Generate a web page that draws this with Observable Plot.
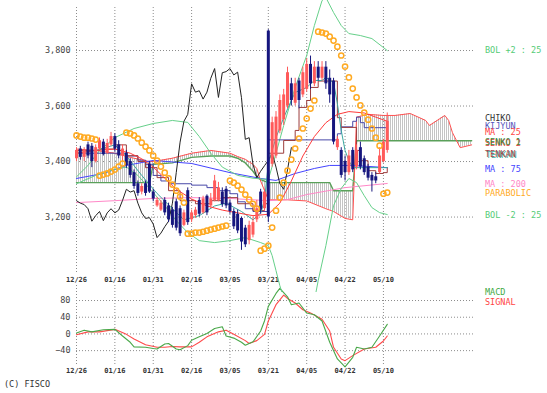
<!DOCTYPE html>
<html><head><meta charset="utf-8">
<script src="https://cdn.jsdelivr.net/npm/d3@7"></script>
<script src="https://cdn.jsdelivr.net/npm/@observablehq/plot@0.6"></script>
<style>
body{margin:0;background:#fff;}
#wrap{position:relative;width:547px;height:393px;overflow:hidden;background:#fff;font-family:"DejaVu Sans Mono",monospace;}
#main,#macd{position:absolute;left:0;}
#main{top:0;} #macd{top:276px;}
.lbl{position:absolute;left:485px;font-size:8.5px;line-height:1;white-space:pre;transform:translateY(-50%);}
</style></head><body>
<div id="wrap">
<svg width="0" height="0" style="position:absolute"><defs><pattern id="hatch" patternUnits="userSpaceOnUse" x="0" y="0" width="2" height="4"><rect x="0" y="0" width="1" height="4" fill="#c4c4c4"/></pattern></defs></svg>
<div id="macd"></div>
<div id="main"></div>
<div class="lbl" style="top:50px;color:#55cc77">BOL +2 : 25</div>
<div class="lbl" style="top:118px;color:#333">CHIKO</div>
<div class="lbl" style="top:126px;color:#5555bb">KIJYUN</div>
<div class="lbl" style="top:132px;color:#ff4444">MA : 25</div>
<div class="lbl" style="top:143px;color:#e04040">SENKO 2</div>
<div class="lbl" style="top:142px;color:#3d8a3d">SENKO 1</div>
<div class="lbl" style="top:155px;left:486px;color:#40b0a0">TENKAN</div>
<div class="lbl" style="top:154px;color:#a04848">TENKAN</div>
<div class="lbl" style="top:169px;color:#4444ff">MA : 75</div>
<div class="lbl" style="top:184px;color:#ff88c8">MA : 200</div>
<div class="lbl" style="top:193px;color:#ffaa22">PARABOLIC</div>
<div class="lbl" style="top:215px;color:#55cc77">BOL -2 : 25</div>
<div class="lbl" style="top:292px;color:#44aa44">MACD</div>
<div class="lbl" style="top:302px;color:#ff4444">SIGNAL</div>
<div class="lbl" style="top:384px;left:4px;color:#333">(C) FISCO</div>
</div>
<script>
// ---- categories / ticks ----
const dateIdx = [0,10,20,30,40,50,60,70,80];
const dateLabels = ["12/26","01/16","01/31","02/16","03/05","03/21","04/05","04/22","05/10"];
const priceTicks = [3200,3400,3600,3800];
const macdTicks = [-40,0,40,80];

// ---- candles ----
const open  = [3410,3445,3415,3460,3455,3400,3445,3470,3430,3460,3490,3460,3420,3430,3400,3360,3320,3290,3320,3390,3290,3240,3225,3260,3240,3225,3255,3230,3170,3295,3190,3205,3260,3215,3275,3240,3260,3260,3290,3300,3250,3220,3210,3195,3160,3115,3135,3190,3290,3230,3870,3390,3420,3510,3550,3600,3680,3610,3690,3640,3660,3750,3680,3740,3700,3740,3700,3690,3450,3440,3400,3360,3440,3380,3450,3410,3380,3350,3345,3360,3400,3440];
const high  = [3450,3455,3450,3470,3465,3460,3485,3480,3480,3505,3500,3475,3460,3440,3410,3370,3330,3320,3330,3400,3300,3270,3260,3270,3250,3235,3265,3240,3225,3305,3225,3235,3270,3275,3280,3285,3350,3325,3305,3310,3260,3230,3225,3200,3170,3185,3200,3260,3300,3300,3875,3560,3580,3640,3660,3740,3700,3700,3700,3740,3770,3780,3760,3760,3760,3760,3730,3700,3490,3450,3420,3440,3450,3460,3470,3420,3390,3360,3360,3450,3480,3575];
const low   = [3400,3405,3400,3410,3378,3395,3440,3420,3425,3455,3435,3410,3400,3375,3340,3300,3275,3280,3275,3285,3255,3235,3220,3205,3180,3160,3150,3130,3165,3170,3180,3195,3200,3210,3205,3230,3255,3255,3235,3230,3210,3155,3140,3080,3090,3100,3125,3180,3210,3220,3180,3380,3410,3500,3530,3590,3600,3600,3590,3630,3650,3660,3670,3690,3690,3660,3610,3460,3440,3340,3330,3350,3360,3370,3370,3350,3330,3290,3320,3355,3395,3430];
const close = [3440,3415,3440,3420,3400,3450,3475,3425,3465,3490,3445,3420,3445,3385,3350,3310,3285,3310,3285,3290,3265,3260,3250,3215,3190,3170,3160,3140,3215,3180,3215,3225,3210,3265,3215,3265,3330,3305,3245,3240,3220,3165,3150,3110,3100,3170,3180,3230,3225,3290,3200,3540,3560,3620,3640,3720,3620,3680,3620,3720,3750,3680,3740,3700,3740,3680,3640,3470,3480,3350,3360,3420,3370,3440,3380,3360,3340,3330,3330,3420,3470,3545];

// ---- lines (index / value) ----
const chiko = [3259,3250,3245,3230,3185,3205,3220,3187,3215,3230,3215,3225,3260,3300,3290,3295,3250,3215,3195,3198,3175,3126,3142,3165,3185,3250,3360,3470,3545,3570,3680,3650,3655,3625,3650,3700,3735,3631,3720,3724,3735,3712,3722,3630,3480,3486,3390,3342,3365,3385,3404,3430,3380,3320,3300,3370,3450];

const ma25Idx = [0,5,10,14,17,20,23,26,30,34,38,42,46,50,53,56,59,62,65,68,71,75,78,81];
const ma25    = [3430,3440,3445,3430,3410,3380,3340,3300,3265,3240,3225,3215,3205,3210,3250,3330,3420,3490,3540,3570,3580,3575,3560,3545];

const ma75Idx = [0,7,13,20,30,40,48,52,57,62,66,72,81];
const ma75    = [3339,3357,3386,3404,3393,3360,3339,3332,3357,3375,3386,3386,3378];

const ma200Idx = [0,10,20,30,40,50,55,60,70,81];
const ma200    = [3252,3259,3267,3270,3267,3259,3263,3281,3306,3321];

const bolUIdx = [0,3,6,10,15,20,25,29,32,35,38,42,46,50,52,54,57,60,62,64,65,67,69,71,74,77,81];
const bolU    = [3345,3386,3440,3486,3519,3537,3548,3541,3490,3430,3380,3350,3340,3335,3430,3530,3667,3782,3890,3980,3991,3937,3890,3861,3854,3843,3800];

const bolLIdx = [0,5,10,13,16,20,23,26,29,32,36,40,44,48,50,51,52,53,55,58,61,63,65,67,69,71,73,75,77,79,81];
const bolL    = [3320,3350,3372,3380,3350,3288,3241,3187,3144,3115,3108,3115,3126,3108,3097,3061,3007,2953,2863,2791,2827,2971,3097,3241,3303,3339,3324,3277,3234,3216,3209];

const tealIdx = [0,5,10,13,17,21,25,28,32,36,39,43,46,48,49,50,52,54,56,57,60,62,64,65,67,68,69,70,71,72,81];
const teal    = [3430,3440,3460,3420,3350,3285,3230,3190,3205,3240,3250,3220,3190,3215,3260,3393,3486,3558,3620,3649,3667,3692,3692,3703,3685,3609,3512,3440,3403,3378,3378];

const tenkanIdx = [0,6,10,13,16,18,21,24,27,31,35,38,42,46,49,50,54,57,58,60,61,63,68,69,73,74,76,78,80,81];
const tenkan    = [3440,3445,3460,3421,3400,3378,3342,3295,3259,3248,3259,3270,3248,3223,3248,3430,3476,3512,3595,3620,3667,3690,3558,3523,3440,3403,3367,3357,3360,3378];

const kijunIdx = [0,12,13,16,18,20,22,24,30,34,37,40,42,44,46,50,67,68,69,72,73,74,75,81];
const kijun    = [3430,3430,3420,3405,3390,3350,3330,3320,3315,3306,3295,3284,3255,3230,3220,3478,3478,3500,3525,3545,3560,3540,3522,3522];

const cloudIdx = [0,5,10,14,19,20,25,30,35,40,42,44,46,47,48,50,55,60,65,66,67,70,72,73,76,80,83,87,91,92,94,96,97,98,100,103];
const senko1   = [3445,3440,3430,3415,3400,3400,3412,3430,3440,3430,3418,3408,3390,3375,3330,3262,3262,3258,3230,3225,3220,3195,3190,3560,3570,3566,3566,3573,3548,3530,3548,3566,3548,3504,3450,3460];
const senko2   = [3324,3324,3324,3324,3324,3390,3395,3415,3420,3420,3412,3395,3365,3345,3335,3324,3324,3324,3324,3324,3295,3295,3295,3475,3475,3475,3475,3475,3475,3475,3475,3475,3475,3475,3475,3475];

const sar = [3494,3490,3486,3486,3483,3479,
  3349,3353,3357,3364,3371,3382,3393,
  3504,3501,3494,3483,3468,3454,3440,3421,3403,3382,3360,3339,3317,3295,3274,3252,
  3140,3140,3144,3144,3147,3151,3155,3158,3162,3166,3169,
  3331,3324,3313,3299,3281,3263,3248,3230,
  3079,3086,3097,3162,3223,3270,3324,3367,3407,3447,3483,3519,3555,3591,3620,
  3868,3865,3861,3850,3836,3814,3782,3742,3703,3663,3631,3602,3576,3551,3519,3486,3457,
  3284,3288];

// ---- MACD ----
const macdIdx = [0,2,4,7,10,12,14,15,18,20,21,23,24,26,27,29,30,32,34,36,38,39,41,43,44,46,48,49,50,52,53,55,56,58,60,62,64,66,68,70,72,73,75,77,79,81];
const macdVals = [2,9,5,10,11,-5,-20,-31,-32,-35,-36,-24,-23,-36,-38,-28,-15,-7,1,13,17,-5,-10,-20,-27,-19,7,31,66,97,109,89,70,74,50,46,31,-20,-60,-79,-56,-32,-36,-32,-5,23];
const sigIdx = [0,3,6,10,13,15,18,21,23,25,27,30,32,34,37,39,41,44,45,47,49,50,52,54,55,57,59,61,64,66,67,69,70,72,75,78,80,81];
const sigVals = [-2,5,5,11,-1,-12,-26,-32,-32,-30,-31,-31,-20,-7,5,9,-1,-16,-23,-16,-1,31,70,93,85,74,58,50,35,7,-32,-60,-64,-52,-36,-32,-17,-5];

// ---- build ----
const pts = (xs, ys) => xs.map((x, k) => ({x, y: ys[k]}));
const bars = close.map((c, i) => ({i, o: open[i], h: high[i], l: low[i], c, up: c >= open[i]}));
const upBars = bars.filter(d => d.up), dnBars = bars.filter(d => !d.up);
const cloud = cloudIdx.map((x, k) => ({x, a: senko1[k], b: senko2[k]}));
const RED = "#ff5a5a", NAVY = "#16167e";
const fmtDate = d => dateLabels[dateIdx.indexOf(d)];
const grid = {stroke: "#8c8c8c", strokeOpacity: 1, strokeDasharray: "1,2", strokeWidth: 1};
const line = (xs, ys, stroke, extra = {}) => Plot.line(pts(xs, ys), {x: "x", y: "y", stroke, strokeWidth: 1, ...extra});

const main = Plot.plot({
  width: 547, height: 292, marginTop: 7, marginBottom: 18, marginLeft: 76, marginRight: 72,
  x: {domain: [0, 104]}, y: {domain: [2993, 3955]},
  style: {background: "transparent", fontFamily: "DejaVu Sans Mono, monospace"},
  marks: [
    Plot.gridY(priceTicks, grid),
    Plot.gridX(dateIdx, grid),
    Plot.axisY(priceTicks, {tickSize: 0, tickPadding: 6, tickFormat: d3.format(","), fontSize: 8.5, fill: "#444", label: null}),
    Plot.axisX(dateIdx, {tickSize: 0, tickPadding: 3, tickFormat: fmtDate, fontSize: 7, fontWeight: "bold", fill: "#333", label: null}),
    Plot.areaY(cloud, {x: "x", y1: "a", y2: "b", fill: "url(#hatch)"}),
    Plot.line(cloud, {x: "x", y: "b", stroke: "#5aa05a", strokeWidth: 1.4}),
    Plot.line(cloud, {x: "x", y: "a", stroke: "#ff5050", strokeWidth: 1}),
    line(ma200Idx, ma200, "#ff88c8"),
    line(ma75Idx, ma75, "#4444ff"),
    line(bolUIdx, bolU, "#66d08a"),
    line(bolLIdx, bolL, "#66d08a"),
    Plot.line(chiko.map((v, i) => ({x: i, y: v})), {x: "x", y: "y", stroke: "#222", strokeWidth: 1}),
    line(kijunIdx, kijun, "#4848a8", {curve: "step-after"}),
    line(tenkanIdx, tenkan, "#9c3c3c", {curve: "step-after"}),
    line(tealIdx, teal, "#3aa8a0"),
    line(ma25Idx, ma25, "#ff3a3a"),
    Plot.ruleX(upBars, {x: "i", y1: "l", y2: "h", stroke: RED, strokeWidth: 1}),
    Plot.ruleX(upBars, {x: "i", y1: "o", y2: "c", stroke: RED, strokeWidth: 3}),
    Plot.ruleX(dnBars, {x: "i", y1: "l", y2: "h", stroke: NAVY, strokeWidth: 1}),
    Plot.ruleX(dnBars, {x: "i", y1: "o", y2: "c", stroke: NAVY, strokeWidth: 3}),
    Plot.dot(sar.map((v, i) => ({x: i, y: v})), {x: "x", y: "y", r: 2.6, stroke: "#ffaa22", strokeWidth: 1.5, fill: "none"})
  ]
});
document.getElementById("main").appendChild(main);

const macd = Plot.plot({
  width: 547, height: 104, marginTop: 9, marginBottom: 14, marginLeft: 76, marginRight: 72,
  x: {domain: [0, 104]}, y: {domain: [-78, 116]},
  style: {background: "transparent", fontFamily: "DejaVu Sans Mono, monospace"},
  marks: [
    Plot.gridY(macdTicks, grid),
    Plot.gridX(dateIdx, grid),
    Plot.axisY(macdTicks, {tickSize: 0, tickPadding: 6, fontSize: 8.5, fill: "#444", label: null}),
    Plot.axisX(dateIdx, {tickSize: 0, tickPadding: 2, tickFormat: fmtDate, fontSize: 7, fontWeight: "bold", fill: "#333", label: null}),
    line(sigIdx, sigVals, "#ff4a4a", {strokeWidth: 1.1}),
    line(macdIdx, macdVals, "#4aa84a", {strokeWidth: 1.1})
  ]
});
document.getElementById("macd").appendChild(macd);
</script>
</body></html>
